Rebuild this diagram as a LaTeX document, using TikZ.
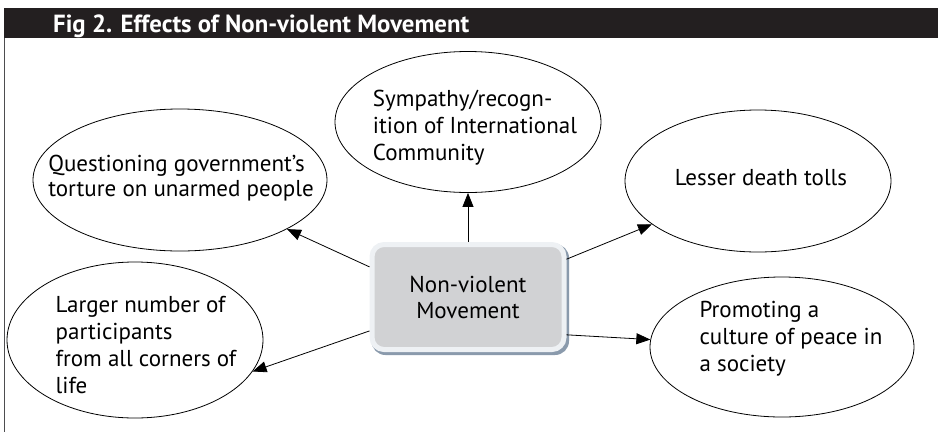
\documentclass[tikz,border=0pt]{standalone}
\usepackage{fontspec}
\setmainfont{PT Sans}
\usetikzlibrary{arrows.meta,shapes.geometric,backgrounds}

\definecolor{barblack}{HTML}{231F20}
\definecolor{coregray}{HTML}{D1D2D4}
\definecolor{coreedge}{HTML}{EEF1F4}
\definecolor{coreshade}{HTML}{8A9AAC}
\definecolor{framegray}{HTML}{4D4D4F}

\tikzset{
  bubble/.style={draw=black,line width=0.8pt,ellipse,inner sep=0pt},
  bubtext/.style={align=left,inner sep=0pt,font=\fontsize{23}{27}\selectfont},
  corebox/.style={draw=coreedge,line width=5pt,fill=coregray,rounded corners=12pt,
    minimum width=192pt,minimum height=105pt,align=center,font=\fontsize{23}{26}\selectfont},
  effect/.style={draw=black,line width=0.8pt,-{Triangle[length=14pt,width=11pt]}}
}

\begin{document}
\begin{tikzpicture}[x=1pt,y=-1pt]

\useasboundingbox (0,0) rectangle (938,432);

\fill[barblack] (4,8) rectangle (938,38);
\node[anchor=base west,inner sep=0pt,text=white,font=\fontsize{24.8}{25}\selectfont\bfseries] (title) at (53,32) {Fig 2. Effects of Non-violent Movement};

\draw[framegray,line width=1.4pt] (4.7,38) -- (4.7,432);

\node[corebox] (core) at (468,297) {Non-violent\\Movement};
\begin{scope}[on background layer]
\fill[coreshade,rounded corners=14pt] ([xshift=2pt,yshift=-2pt]core.north west) rectangle ([xshift=2.5pt,yshift=-3pt]core.south east);
\end{scope}

\node[bubble,minimum width=266pt,minimum height=141pt] (symp) at (468,122) {};
\node[bubtext] (symp-t) at (475,128) {Sympathy/recogn-\\ition of International\\Community};

\node[bubble,minimum width=294pt,minimum height=142pt] (quest) at (180,180) {};
\node[bubtext,font=\fontsize{23}{25}\selectfont] (quest-t) at (181,178) {Questioning government's\\torture on unarmed people};

\node[bubble,minimum width=266pt,minimum height=142pt] (less) at (758,181) {};
\node[bubtext] (less-t) at (761,178) {Lesser death tolls};

\node[bubble,minimum width=256pt,minimum height=156pt] (large) at (135,340) {};
\node[bubtext] (large-t) at (146,345) {Larger number of\\participants\\from all corners of\\life};

\node[bubble,minimum width=264pt,minimum height=140pt] (prom) at (782,347) {};
\node[bubtext] (prom-t) at (791,339) {Promoting a\\culture of peace in\\a society};

\draw[effect] (core.north) -- (symp.south);
\draw[effect] (core.163) -- (quest);
\draw[effect] (core.21.5) -- (less);
\draw[effect] (core.199) -- (large.-15);
\draw[effect] (core.-21.5) -- (prom);

\end{tikzpicture}
\end{document}
